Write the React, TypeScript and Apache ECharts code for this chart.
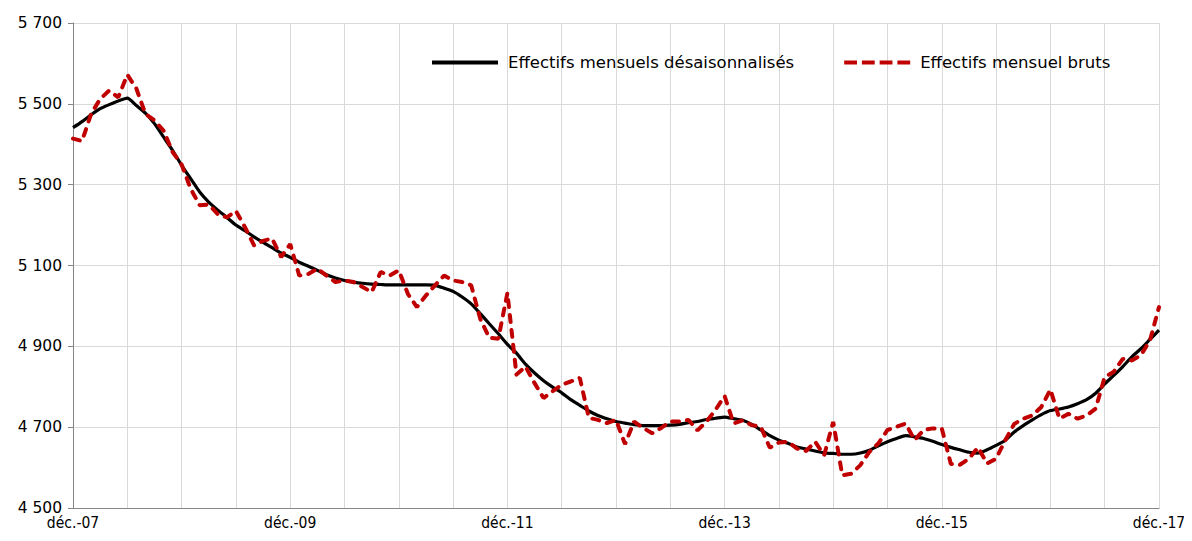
import React, { useEffect, useRef } from "react";
import * as echarts from "echarts";

const monthNames = ["janv.", "févr.", "mars", "avr.", "mai", "juin", "juil.", "août", "sept.", "oct.", "nov.", "déc."];
const startYear = 2007; // déc.-07 first point

const seasonallyAdjusted = [
  5441, 5456, 5473, 5488, 5498, 5507, 5514, 5496, 5477, 5451, 5418, 5385,
  5348, 5315, 5282, 5257, 5237, 5219, 5200, 5186, 5171, 5157, 5144, 5131,
  5120, 5108, 5098, 5088, 5077, 5069, 5063, 5059, 5056, 5054, 5053, 5052,
  5052, 5052, 5052, 5052, 5051, 5044, 5036, 5022, 5005, 4981, 4956, 4931,
  4905, 4883, 4856, 4834, 4815, 4799, 4785, 4768, 4754, 4740, 4729, 4721,
  4714, 4710, 4706, 4704, 4704, 4704, 4705, 4707, 4711, 4714, 4719, 4722,
  4725, 4721, 4717, 4707, 4693, 4679, 4668, 4660, 4651, 4646, 4641, 4636,
  4635, 4633, 4633, 4636, 4643, 4654, 4664, 4672, 4679, 4676, 4672, 4665,
  4657, 4650, 4644, 4638, 4636, 4644, 4655, 4667, 4688, 4704, 4718, 4731,
  4741, 4745, 4750, 4758, 4768, 4784, 4807, 4828, 4850, 4874, 4894, 4917,
  4940,
];

const rawValues = [
  5414, 5408, 5475, 5512, 5533, 5516, 5572, 5538, 5475, 5459, 5434, 5381,
  5350, 5290, 5249, 5251, 5227, 5219, 5235, 5195, 5150, 5161, 5167, 5121,
  5153, 5075, 5079, 5092, 5075, 5059, 5063, 5059, 5047, 5034, 5084, 5075,
  5088, 5030, 4997, 5026, 5051, 5075, 5063, 5059, 5051, 4968, 4921, 4919,
  5032, 4830, 4850, 4809, 4772, 4789, 4805, 4813, 4822, 4723, 4718, 4710,
  4718, 4658, 4714, 4698, 4685, 4698, 4714, 4714, 4718, 4692, 4714, 4743,
  4777, 4709, 4717, 4705, 4701, 4649, 4662, 4664, 4647, 4641, 4664, 4631,
  4713, 4581, 4585, 4606, 4639, 4660, 4693, 4701, 4709, 4668, 4693, 4697,
  4697, 4609, 4607, 4622, 4650, 4610, 4622, 4667, 4708, 4721, 4729, 4750,
  4793, 4721, 4733, 4721, 4729, 4746, 4824, 4837, 4869, 4865, 4878, 4915,
  4997,
];

const yTicks = [4500, 4700, 4900, 5100, 5300, 5500, 5700];

const seriesNames = ["Effectifs mensuels désaisonnalisés", "Effectifs mensuel bruts"];

const categories: string[] = [];
for (let i = 0; i < seasonallyAdjusted.length; i++) {
  const m = (11 + i) % 12;
  const y = startYear + Math.floor((11 + i) / 12);
  categories.push(monthNames[m] + "-" + String(y % 100).padStart(2, "0"));
}

const FONT_C = "'DejaVu Sans Condensed', 'DejaVu Sans', sans-serif";
const FONT = "'DejaVu Sans', sans-serif";

const DASH_ICON =
  "path://M0,0h13v4h-13z M18,0h13v4h-13z M36,0h13v4h-13z M54,0h13v4h-13z";

export default function App() {
  const ref = useRef<HTMLDivElement>(null);
  useEffect(() => {
    if (!ref.current) return;
    const chart = echarts.init(ref.current, undefined, { renderer: "svg" });
    chart.setOption({
      animation: false,
      backgroundColor: "#ffffff",
      grid: { left: 73, right: 33, top: 23, bottom: 33, containLabel: false },
      legend: {
        top: 49,
        left: 427,
        itemWidth: 66,
        itemHeight: 4,
        itemGap: 50,
        textStyle: { fontFamily: FONT, fontSize: 16.5, color: "#000", padding: [0, 0, 0, 5] },
        data: [
          { name: seriesNames[0], icon: "rect" },
          { name: seriesNames[1], icon: DASH_ICON },
        ],
      },
      xAxis: {
        type: "category",
        data: categories,
        boundaryGap: false,
        axisLine: { lineStyle: { color: "#868686", width: 1 } },
        axisTick: { show: false },
        axisLabel: {
          interval: 23,
          fontFamily: FONT_C,
          fontSize: 15.5,
          color: "#000",
          margin: 7,
        },
        splitLine: { show: true, interval: 5, lineStyle: { color: "#d9d9d9", width: 1 } },
      },
      yAxis: {
        type: "value",
        min: yTicks[0],
        max: yTicks[yTicks.length - 1],
        interval: 200,
        axisLine: { show: true, lineStyle: { color: "#868686", width: 1 } },
        axisTick: { show: true, length: 5, lineStyle: { color: "#868686" } },
        axisLabel: {
          fontFamily: FONT,
          fontSize: 15.5,
          color: "#000",
          margin: 11,
          formatter: (v: number) => {
            const s = String(Math.round(v));
            return s.replace(/\B(?=(\d{3})+(?!\d))/g, " ");
          },
        },
        splitLine: { show: true, lineStyle: { color: "#d9d9d9", width: 1 } },
      },
      series: [
        {
          name: seriesNames[0],
          type: "line",
          data: seasonallyAdjusted,
          symbol: "none",
          smooth: 0.2,
          z: 3,
          lineStyle: { color: "#000000", width: 3.2 },
          itemStyle: { color: "#000000" },
        },
        {
          name: seriesNames[1],
          type: "line",
          data: rawValues,
          symbol: "none",
          z: 4,
          lineStyle: { color: "#c00000", width: 4, type: [7, 8], cap: "round" },
          itemStyle: { color: "#c00000" },
        },
      ],
    });
    return () => chart.dispose();
  }, []);
  return <div ref={ref} style={{ width: 1192, height: 541, margin: -8 }} />;
}
